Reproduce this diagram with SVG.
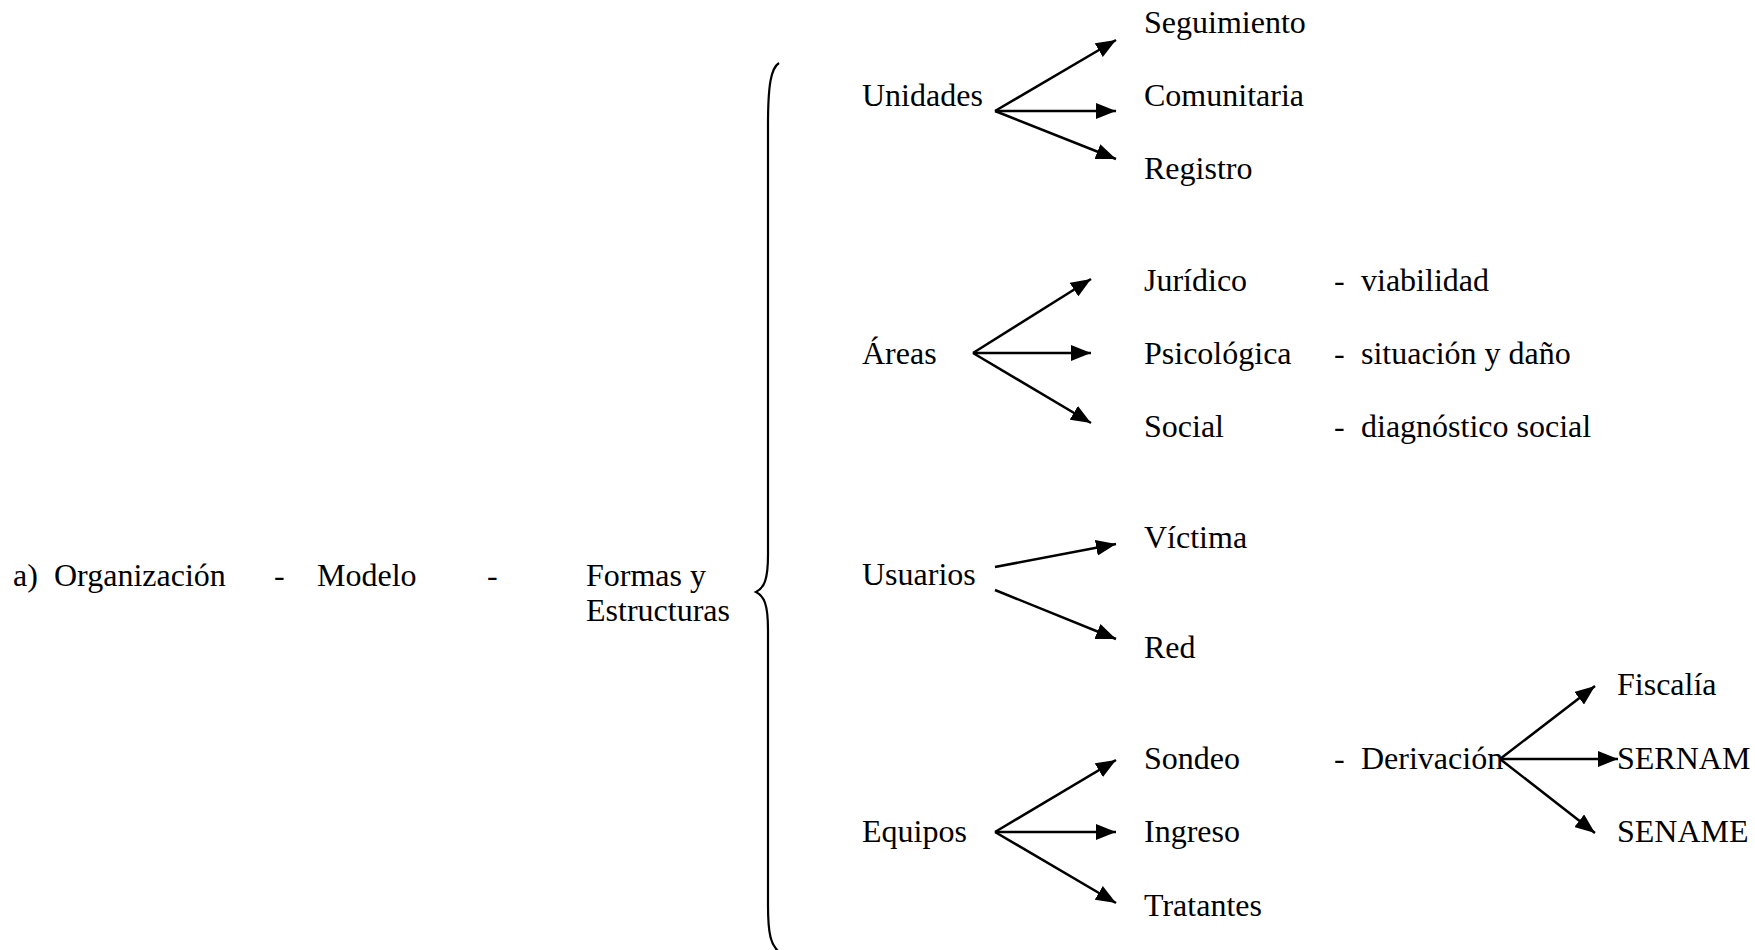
<svg xmlns="http://www.w3.org/2000/svg" width="1755" height="950" viewBox="0 0 1755 950">
<style>
text{font-family:"Liberation Serif","Times New Roman",serif;font-size:32px;fill:#000}
.c{stroke:#000;stroke-width:2.5;fill:none}
.b{stroke:#000;stroke-width:2.2;fill:none}
</style>
<defs>
<marker id="ah" markerUnits="userSpaceOnUse" markerWidth="20" markerHeight="16" refX="20" refY="8" orient="auto">
<path d="M0,0 L20,8 L0,16 z" fill="#000"/>
</marker>
</defs>
<rect width="1755" height="950" fill="#fff"/>
<g id="root">
<text x="13" y="586">a)</text>
<text x="54" y="586">Organización</text>
<text x="274" y="586">-</text>
<text x="317" y="586">Modelo</text>
<text x="487" y="586">-</text>
<text x="586" y="586">Formas y</text>
<text x="586" y="621">Estructuras</text>
</g>
<g id="brace">
<path class="b" d="M779,63 C771,68 768,85 768,125 L768,555 C768,580 764,588 756,592 C764,596 768,604 768,630 L768,905 C768,935 771,945 779,952"/>
</g>
<g id="unidades"><text x="862" y="106">Unidades</text></g>
<g id="seguimiento"><text x="1144" y="33">Seguimiento</text></g>
<g id="comunitaria"><text x="1144" y="106">Comunitaria</text></g>
<g id="registro"><text x="1144" y="179">Registro</text></g>
<g id="areas"><text x="862" y="364">Áreas</text></g>
<g id="juridico"><text x="1144" y="291">Jurídico</text><text x="1334" y="291">-</text><text x="1361" y="291">viabilidad</text></g>
<g id="psicologica"><text x="1144" y="364">Psicológica</text><text x="1334" y="364">-</text><text x="1361" y="364">situación y daño</text></g>
<g id="social"><text x="1144" y="437">Social</text><text x="1334" y="437">-</text><text x="1361" y="437">diagnóstico social</text></g>
<g id="usuarios"><text x="862" y="585">Usuarios</text></g>
<g id="victima"><text x="1144" y="548">Víctima</text></g>
<g id="red"><text x="1144" y="658">Red</text></g>
<g id="equipos"><text x="862" y="842">Equipos</text></g>
<g id="sondeo"><text x="1144" y="769">Sondeo</text><text x="1334" y="769">-</text><text x="1361" y="769">Derivación</text></g>
<g id="ingreso"><text x="1144" y="842">Ingreso</text></g>
<g id="tratantes"><text x="1144" y="916">Tratantes</text></g>
<g id="fiscalia"><text x="1617" y="695">Fiscalía</text></g>
<g id="sernam"><text x="1617" y="769">SERNAM</text></g>
<g id="sename"><text x="1617" y="842">SENAME</text></g>
<g id="connectors">
<line class="c" x1="995" y1="111" x2="1116" y2="40" marker-end="url(#ah)"/>
<line class="c" x1="995" y1="111" x2="1116" y2="111" marker-end="url(#ah)"/>
<line class="c" x1="995" y1="111" x2="1116" y2="159" marker-end="url(#ah)"/>
<line class="c" x1="973" y1="353" x2="1091" y2="279" marker-end="url(#ah)"/>
<line class="c" x1="973" y1="353" x2="1091" y2="353" marker-end="url(#ah)"/>
<line class="c" x1="973" y1="353" x2="1091" y2="423" marker-end="url(#ah)"/>
<line class="c" x1="995" y1="567" x2="1116" y2="544" marker-end="url(#ah)"/>
<line class="c" x1="995" y1="590" x2="1116" y2="639" marker-end="url(#ah)"/>
<line class="c" x1="995" y1="832" x2="1116" y2="760" marker-end="url(#ah)"/>
<line class="c" x1="995" y1="832" x2="1116" y2="832" marker-end="url(#ah)"/>
<line class="c" x1="995" y1="832" x2="1116" y2="903" marker-end="url(#ah)"/>
<line class="c" x1="1500" y1="759" x2="1595" y2="686" marker-end="url(#ah)"/>
<line class="c" x1="1500" y1="759" x2="1618" y2="759" marker-end="url(#ah)"/>
<line class="c" x1="1500" y1="759" x2="1595" y2="833" marker-end="url(#ah)"/>
</g>
</svg>
